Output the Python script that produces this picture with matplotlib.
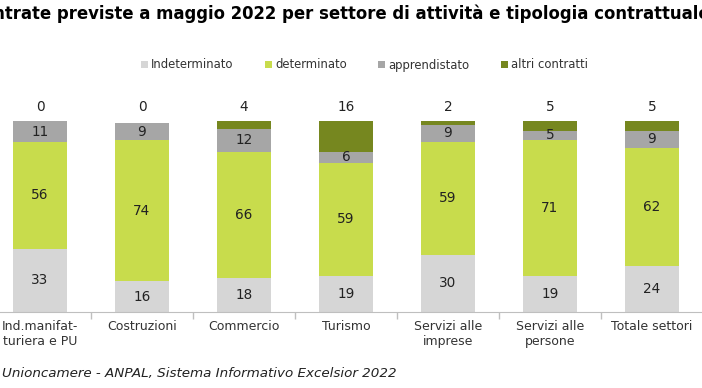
import numpy as np
import matplotlib.pyplot as plt

settori = ["Ind.manifat-\nturiera e PU", "Costruzioni", "Commercio", "Turismo",
           "Servizi alle\nimprese", "Servizi alle\npersone", "Totale settori"]
indeterminato = [33, 16, 18, 19, 30, 19, 24]
determinato = [56, 74, 66, 59, 59, 71, 62]
apprendistato = [11, 9, 12, 6, 9, 5, 9]
altri = [0, 0, 4, 16, 2, 5, 5]

serie = [
    ("Indeterminato", indeterminato, "#d6d6d6"),
    ("determinato", determinato, "#c8dc4c"),
    ("apprendistato", apprendistato, "#a6a6a6"),
    ("altri contratti", altri, "#76871f"),
]

plt.rcParams["font.family"] = ["DejaVu Sans"]
fig = plt.figure(figsize=(7.02, 3.88), dpi=100)
# axes runs past the left edge of the picture (chart is cropped)
ax = fig.add_axes([-11 / 702, (388 - 312) / 388, 714 / 702, 191 / 388])

x = np.arange(len(settori))
bottom = np.zeros(len(settori))
for nome, vals, col in serie:
    vals = np.array(vals, dtype=float)
    ax.bar(x, vals, 0.52, bottom=bottom, color=col, label=nome, zorder=2)
    for xi, b, v in zip(x, bottom, vals):
        if nome == "altri contratti":
            ax.annotate(f"{int(v)}", (xi, 100), xytext=(0, 5), textcoords="offset points",
                        ha="center", va="bottom", fontsize=9.8, color="#222222")
        else:
            ax.text(xi, b + v / 2, f"{int(v)}", ha="center", va="center",
                    fontsize=9.8, color="#222222")
    bottom += vals

ax.set_xlim(-0.5, len(settori) - 0.5)
ax.set_ylim(0, 100)
ax.set_yticks([])
ax.set_xticks(x)
ax.set_xticklabels(settori, fontsize=9, color="#333333", linespacing=1.15)
ax.tick_params(axis="x", length=0, pad=6)
ax.set_xticks(np.arange(0.5, len(settori) - 0.5), minor=True)
ax.tick_params(axis="x", which="minor", length=5, color="#bfbfbf", width=1)
for s in ["top", "right", "left"]:
    ax.spines[s].set_visible(False)
ax.spines["bottom"].set_color("#bfbfbf")
ax.patch.set_alpha(0)

leg = fig.legend(loc="center", bbox_to_anchor=(0.519, 1 - 65 / 388), ncol=4,
                 frameon=False, fontsize=8.4, handlelength=0.6, handleheight=0.6,
                 handletextpad=0.25, columnspacing=2.7)
for t in leg.get_texts():
    t.set_color("#333333")

# title is cut at both edges in the original picture
fig.text(-0.026, 1 - 14 / 388, "Entrate previste a maggio 2022 per settore di attività e tipologia contrattuale",
         fontsize=11.9, fontweight="bold", ha="left", va="center")
fig.text(2 / 702, 1 - 374 / 388, "Unioncamere - ANPAL, Sistema Informativo Excelsior 2022",
         fontsize=9.7, style="italic", ha="left", va="center", color="#222222")

fig.savefig("out.png", dpi=100)
